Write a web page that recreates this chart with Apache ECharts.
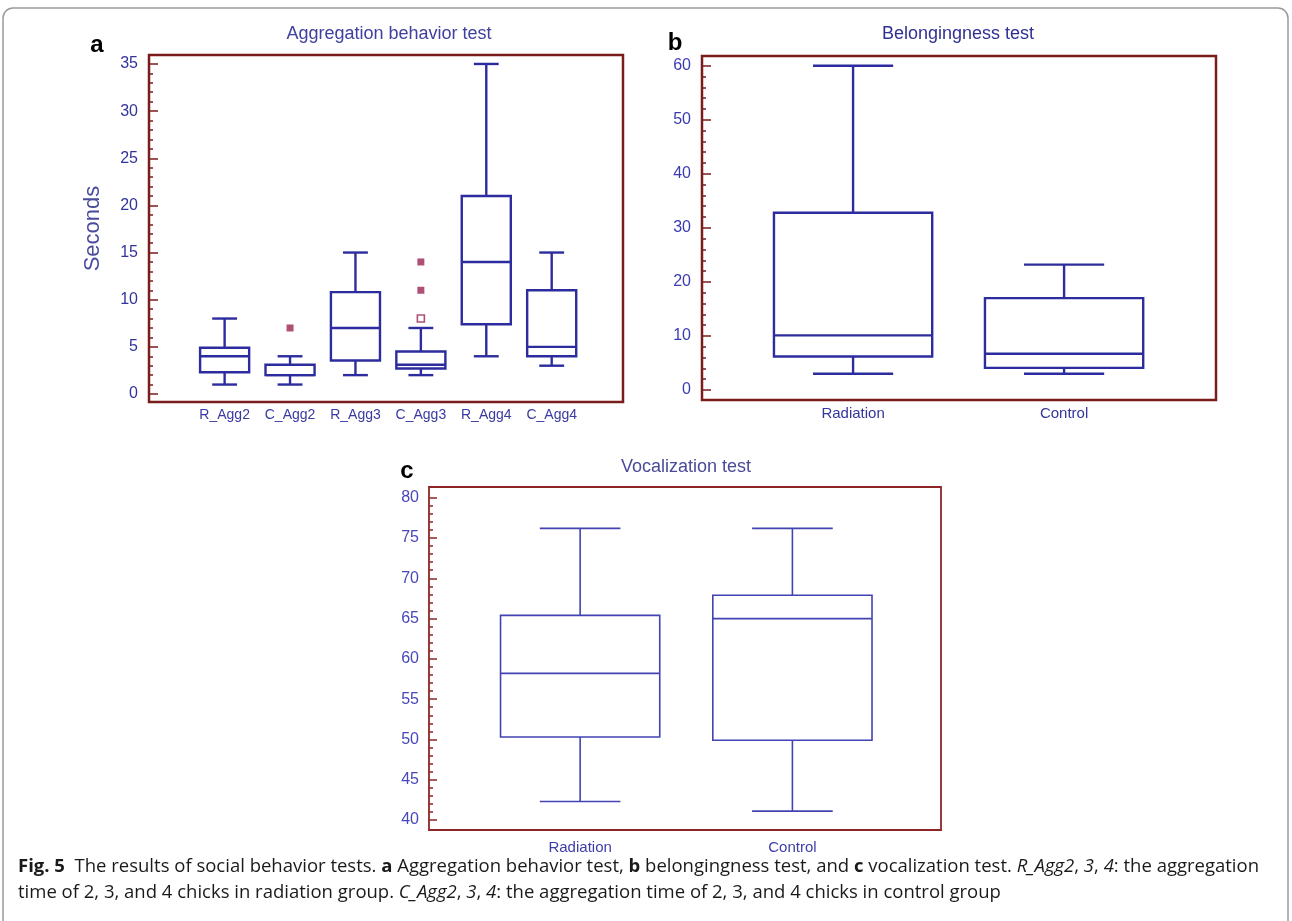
<!DOCTYPE html>
<html>
<head>
<meta charset="utf-8">
<script src="https://cdn.jsdelivr.net/npm/echarts@6/dist/echarts.min.js"></script>
<style>
html,body{margin:0;padding:0;background:#fff;}
#chart{width:1292px;height:921px;}
</style>
</head>
<body>
<div id="chart"></div>
<script>
// ---------- data ----------
const aggCategories = ['R_Agg2', 'C_Agg2', 'R_Agg3', 'C_Agg3', 'R_Agg4', 'C_Agg4'];
// [min, Q1, median, Q3, max]
const aggBoxes = [
  [1, 2.3, 4, 4.9, 8],
  [1, 2, 2, 3.1, 4],
  [2, 3.55, 7, 10.8, 15],
  [2, 2.7, 3.1, 4.5, 7],
  [4, 7.4, 14, 21, 35],
  [3, 4, 5, 11, 15]
];
// [category index, value]
const aggFarOutliers = [[1, 7], [3, 14], [3, 11]];
const aggNearOutliers = [[3, 8]];

const groupCategories = ['Radiation', 'Control'];
const belongBoxes = [
  [3, 6.2, 10.1, 32.8, 60],
  [3, 4.1, 6.7, 17, 23.2]
];
const vocalBoxes = [
  [42.3, 50.3, 58.2, 65.4, 76.2],
  [41.1, 49.9, 65, 67.9, 76.2]
];

const aggMajorTicks = [0, 5, 10, 15, 20, 25, 30, 35];
const aggMinorTicks = Array.from({length: 36}, (_, i) => i);
const belongMajorTicks = [0, 10, 20, 30, 40, 50, 60];
const belongMinorTicks = Array.from({length: 31}, (_, i) => i * 2);
const vocalMajorTicks = [40, 45, 50, 55, 60, 65, 70, 75, 80];
const vocalMinorTicks = Array.from({length: 41}, (_, i) => 40 + i);

// ---------- helpers ----------
const BOX_W = 0.75, CAP_W = 0.38;
function makeRender(color, lw) {
  return function (params, api) {
    const x = api.value(0);
    const lo = api.value(1), q1 = api.value(2), med = api.value(3), q3 = api.value(4), hi = api.value(5);
    const tl = api.coord([x - BOX_W / 2, q3]);
    const br = api.coord([x + BOX_W / 2, q1]);
    const mL = api.coord([x - BOX_W / 2, med]);
    const mR = api.coord([x + BOX_W / 2, med]);
    const c = api.coord([x, hi]);
    const cq3 = api.coord([x, q3]);
    const cq1 = api.coord([x, q1]);
    const cl = api.coord([x, lo]);
    const capTL = api.coord([x - CAP_W / 2, hi]);
    const capTR = api.coord([x + CAP_W / 2, hi]);
    const capBL = api.coord([x - CAP_W / 2, lo]);
    const capBR = api.coord([x + CAP_W / 2, lo]);
    const st = {stroke: color, lineWidth: lw, fill: null};
    return {
      type: 'group',
      children: [
        {type: 'rect', shape: {x: tl[0], y: tl[1], width: br[0] - tl[0], height: br[1] - tl[1]}, style: {stroke: color, lineWidth: lw, fill: 'none'}},
        {type: 'line', shape: {x1: mL[0], y1: mL[1], x2: mR[0], y2: mR[1]}, style: st},
        {type: 'line', shape: {x1: c[0], y1: c[1], x2: cq3[0], y2: cq3[1]}, style: st},
        {type: 'line', shape: {x1: cq1[0], y1: cq1[1], x2: cl[0], y2: cl[1]}, style: st},
        {type: 'line', shape: {x1: capTL[0], y1: capTL[1], x2: capTR[0], y2: capTR[1]}, style: st},
        {type: 'line', shape: {x1: capBL[0], y1: capBL[1], x2: capBR[0], y2: capBR[1]}, style: st}
      ]
    };
  };
}
const FONT = 'Liberation Sans, Arial, sans-serif';
const CAP_FONT = 'Open Sans, sans-serif';

function xAxisFor(gridIndex, cats, min, max, color, size, margin) {
  return {
    type: 'value', gridIndex: gridIndex, min: min, max: max, position: 'bottom',
    axisLine: {show: false, onZero: false}, axisTick: {show: false}, splitLine: {show: false},
    axisLabel: {
      customValues: cats.map((_, i) => i),
      formatter: function (v) { return cats[Math.round(v)] || ''; },
      color: color, fontSize: size, fontFamily: FONT, margin: margin
    }
  };
}
function yAxesFor(gridIndex, min, max, major, minor, frameColor, labelColor, size, margin, majLen, minLen, name) {
  return [
    {
      type: 'value', gridIndex: gridIndex, min: min, max: max, position: 'left',
      axisLine: {show: false, onZero: false}, splitLine: {show: false},
      axisTick: {show: true, inside: true, length: majLen, customValues: major, lineStyle: {color: frameColor, width: 1.5}},
      axisLabel: {customValues: major, color: labelColor, fontSize: size, fontFamily: FONT, margin: margin},
      name: name || '', nameLocation: 'middle', nameGap: 45,
      nameTextStyle: {color: '#4b4b9e', fontSize: 22, fontFamily: FONT}
    },
    {
      type: 'value', gridIndex: gridIndex, min: min, max: max, position: 'left', offset: 0,
      axisLine: {show: false, onZero: false}, splitLine: {show: false},
      axisTick: {show: true, inside: true, length: minLen, customValues: minor, lineStyle: {color: frameColor, width: 1.5}},
      axisLabel: {show: false}
    }
  ];
}

const chart = echarts.init(document.getElementById('chart'), null, {renderer: 'canvas'});

const option = {
  backgroundColor: '#fff',
  animation: false,
  grid: [
    {left: 149, top: 55, width: 474, height: 347, show: true, borderColor: '#7b1c1c', borderWidth: 2.5, backgroundColor: '#fff'},
    {left: 702, top: 56, width: 514, height: 344, show: true, borderColor: '#7b1c1c', borderWidth: 2.5, backgroundColor: '#fff'},
    {left: 429, top: 487, width: 512, height: 343, show: true, borderColor: '#8c2626', borderWidth: 1.8, backgroundColor: '#fff'}
  ],
  xAxis: [
    xAxisFor(0, aggCategories, -1.156, 6.09, '#3a3aa0', 14, 6),
    xAxisFor(1, groupCategories, -0.716, 1.72, '#35359c', 15, 6),
    xAxisFor(2, groupCategories, -0.712, 1.70, '#3d3da8', 15, 10)
  ],
  yAxis: [].concat(
    yAxesFor(0, -0.85, 35.95, aggMajorTicks, aggMinorTicks, '#7b1c1c', '#33339c', 16, 11, 9, 4, 'Seconds'),
    yAxesFor(1, -1.85, 61.8, belongMajorTicks, belongMinorTicks, '#7b1c1c', '#3b3bb0', 16, 11, 9, 4),
    yAxesFor(2, 38.76, 81.33, vocalMajorTicks, vocalMinorTicks, '#8c2626', '#4848b8', 16, 10, 8, 4)
  ),
  series: [
    {
      type: 'custom', xAxisIndex: 0, yAxisIndex: 0,
      renderItem: makeRender('#2c2c9e', 2.4),
      encode: {x: 0, y: [1, 2, 3, 4, 5]},
      data: aggBoxes.map((b, i) => [i].concat(b))
    },
    {
      type: 'scatter', xAxisIndex: 0, yAxisIndex: 0, symbol: 'rect', symbolSize: 7,
      itemStyle: {color: '#9a2352'}, data: aggFarOutliers
    },
    {
      type: 'scatter', xAxisIndex: 0, yAxisIndex: 0, symbol: 'rect', symbolSize: 7,
      itemStyle: {color: '#fff', borderColor: '#9a2352', borderWidth: 1.6}, data: aggNearOutliers
    },
    {
      type: 'custom', xAxisIndex: 1, yAxisIndex: 2,
      renderItem: makeRender('#2c2c9e', 2.4),
      encode: {x: 0, y: [1, 2, 3, 4, 5]},
      data: belongBoxes.map((b, i) => [i].concat(b))
    },
    {
      type: 'custom', xAxisIndex: 2, yAxisIndex: 4,
      renderItem: makeRender('#4343b3', 1.6),
      encode: {x: 0, y: [1, 2, 3, 4, 5]},
      data: vocalBoxes.map((b, i) => [i].concat(b))
    }
  ],
  graphic: [
    {type: 'rect', z: -10, shape: {x: 3, y: 8, width: 1285, height: 940, r: 10}, style: {fill: 'none', stroke: '#9a9a9a', lineWidth: 1.5}},
    {type: 'text', x: 97, y: 45, style: {text: 'a', fontSize: 24, fontWeight: 'bold', fill: '#000', fontFamily: FONT, align: 'center', verticalAlign: 'middle'}},
    {type: 'text', x: 675, y: 43, style: {text: 'b', fontSize: 24, fontWeight: 'bold', fill: '#000', fontFamily: FONT, align: 'center', verticalAlign: 'middle'}},
    {type: 'text', x: 407, y: 471, style: {text: 'c', fontSize: 24, fontWeight: 'bold', fill: '#000', fontFamily: FONT, align: 'center', verticalAlign: 'middle'}},
    {type: 'text', x: 389, y: 34, style: {text: 'Aggregation behavior test', fontSize: 18, fill: '#4040a0', fontFamily: FONT, align: 'center', verticalAlign: 'middle'}},
    {type: 'text', x: 958, y: 34, style: {text: 'Belongingness test', fontSize: 18, fill: '#303094', fontFamily: FONT, align: 'center', verticalAlign: 'middle'}},
    {type: 'text', x: 686, y: 467, style: {text: 'Vocalization test', fontSize: 18, fill: '#4a4a98', fontFamily: FONT, align: 'center', verticalAlign: 'middle'}},
    {type: 'text', x: 18, y: 867, style: {
      text: '{b|Fig. 5}  The results of social behavior tests. {b|a} Aggregation behavior test, {b|b} belongingness test, and {b|c} vocalization test. {i|R_Agg2}, {i|3}, {i|4}: the aggregation',
      fontSize: 18.5, fill: '#1a1a1a', fontFamily: CAP_FONT, verticalAlign: 'middle',
      rich: {b: {fontWeight: 'bold', fontSize: 18.5, fontFamily: CAP_FONT}, i: {fontStyle: 'italic', fontSize: 18.5, fontFamily: CAP_FONT}}
    }},
    {type: 'text', x: 18, y: 893, style: {
      text: 'time of 2, 3, and 4 chicks in radiation group. {i|C_Agg2}, {i|3}, {i|4}: the aggregation time of 2, 3, and 4 chicks in control group',
      fontSize: 18.5, fill: '#1a1a1a', fontFamily: CAP_FONT, verticalAlign: 'middle',
      rich: {i: {fontStyle: 'italic', fontSize: 18.5, fontFamily: CAP_FONT}}
    }}
  ]
};
chart.setOption(option);
</script>
</body>
</html>
